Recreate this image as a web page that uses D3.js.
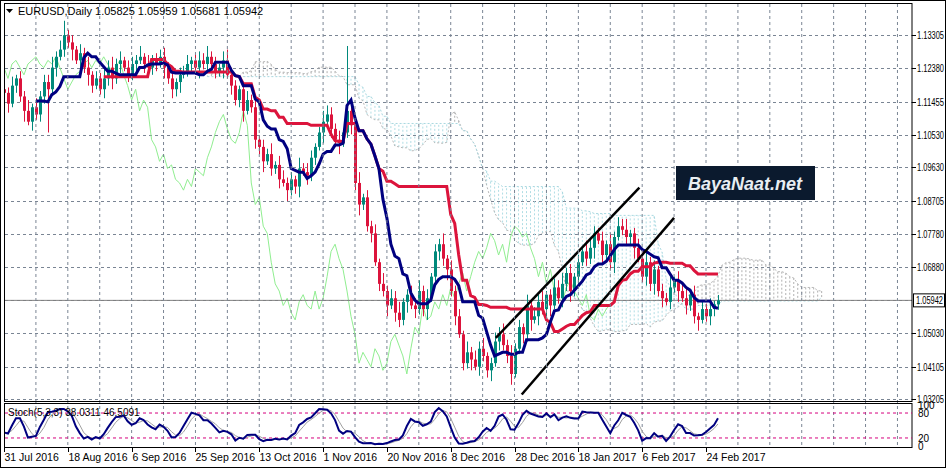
<!DOCTYPE html>
<html><head><meta charset="utf-8">
<script src="https://cdn.jsdelivr.net/npm/d3@7"></script>
<style>body{margin:0;background:#fff}svg text{font-family:"Liberation Sans",Arial,sans-serif}</style>
</head><body><div id="chart"></div>
<script>
// daily closes, 8 bars per grid cell
var closes = [
  1.117,1.114,1.119,1.121,1.116,1.112,1.109,1.113,
  1.111,1.116,1.120,1.118,1.124,1.127,1.129,1.133,
  1.131,1.129,1.126,1.128,1.124,1.122,1.119,1.121,
  1.118,1.121,1.124,1.121,1.125,1.126,1.124,1.122,
  1.125,1.126,1.127,1.125,1.124,1.126,1.125,1.127,
  1.124,1.121,1.118,1.120,1.122,1.123,1.125,1.126,
  1.124,1.126,1.125,1.127,1.125,1.123,1.124,1.126,
  1.122,1.119,1.115,1.118,1.112,1.115,1.113,1.104,
  1.102,1.098,1.100,1.096,1.097,1.093,1.092,1.090,
  1.093,1.091,1.096,1.095,1.094,1.099,1.102,1.106,
  1.109,1.111,1.107,1.104,1.103,1.106,1.112,1.108,
  1.092,1.086,1.088,1.080,1.078,1.070,1.064,1.062,
  1.058,1.060,1.056,1.054,1.059,1.061,1.058,1.057,
  1.062,1.057,1.060,1.066,1.073,1.075,1.071,1.068,
  1.062,1.055,1.050,1.042,1.045,1.043,1.041,1.046,
  1.044,1.040,1.042,1.048,1.050,1.047,1.044,1.039,
  1.046,1.052,1.050,1.058,1.054,1.055,1.059,1.057,
  1.061,1.058,1.063,1.060,1.064,1.067,1.062,1.066,
  1.070,1.073,1.071,1.074,1.078,1.076,1.072,1.075,
  1.070,1.077,1.080,1.079,1.077,1.078,1.074,1.071,
  1.066,1.070,1.064,1.068,1.062,1.060,1.059,1.063,
  1.065,1.062,1.060,1.058,1.061,1.055,1.054,1.057,
  1.055,1.057,1.0583,1.05942
];
var firstOpen = 1.118;
// wick lengths in units of 5 pips
var wickUp = "43524362534463543425362435463524436253445362435235463425643245362436255342635423654352453624352635462354635243625342635462354636342635462354635243654352635462354635243625463524362";
var wickDown = "35243625344635243625364235463524362534426354623546352436253462354624352634625342635462354633524362543625346235463524362534625346235462534623546352436253462354623546352436253462354";
var spikeBars = [{ i: 86, up: 1.1300 }, { i: 11, down: 1.1060 }, { i: 15, up: 1.1370 }];
var priceTicks = [1.13305,1.12380,1.11455,1.10530,1.09630,1.08705,1.07780,1.06880,1.05030,1.04105,1.03205];
var gridPrices = priceTicks.concat([1.05955]);
var dateLabels = ["31 Jul 2016","18 Aug 2016","6 Sep 2016","25 Sep 2016","13 Oct 2016","1 Nov 2016","20 Nov 2016","8 Dec 2016","28 Dec 2016","18 Jan 2017","6 Feb 2017","24 Feb 2017"];
var channel = [
  { i0: 123.3, p0: 1.0490, i1: 159.3, p1: 1.0907 },
  { i0: 129.8, p0: 1.0333, i1: 168.0, p1: 1.0823 }
];
var header = "EURUSD,Daily  1.05825 1.05959 1.05681 1.05942";
var stochText = "Stoch(5,3,3) 38.0311 46.5091";

var n = closes.length;
var bars = closes.map(function (c, i) {
  var o = i === 0 ? firstOpen : closes[i - 1];
  var h = Math.max(o, c) + (+wickUp[i] || 3) * 0.0005;
  var l = Math.min(o, c) - (+wickDown[i] || 3) * 0.0005;
  return { i: i, o: o, c: c, h: h, l: l };
});
spikeBars.forEach(function (s) {
  if (s.up) bars[s.i].h = s.up;
  if (s.down) bars[s.i].l = s.down;
});

function mid(i, p) {
  var s = bars.slice(Math.max(0, i - p + 1), i + 1);
  return (d3.max(s, d => d.h) + d3.min(s, d => d.l)) / 2;
}
var tenkan = bars.map(d => ({ i: d.i, v: mid(d.i, 9) })).slice(8);
var kijun = bars.map(d => ({ i: d.i, v: mid(d.i, 26) })).slice(25);
var chikou = bars.map(d => ({ i: d.i - 26, v: d.c }));
var cloud = [];
for (var i = 25; i < n; i++) {
  cloud.push({ i: i + 26, a: (mid(i, 9) + mid(i, 26)) / 2, b: mid(i, 52) });
}
// stochastic 5,3,3
var rawK = bars.map(function (d) {
  var s = bars.slice(Math.max(0, d.i - 4), d.i + 1);
  var hh = d3.max(s, e => e.h), ll = d3.min(s, e => e.l);
  return { c: d.c - ll, r: hh - ll };
});
var kLine = bars.map(function (d) {
  var s = rawK.slice(Math.max(0, d.i - 2), d.i + 1);
  return { i: d.i, v: 100 * d3.sum(s, e => e.c) / d3.sum(s, e => e.r) };
});
var dLine = kLine.map(function (d) {
  return { i: d.i, v: d3.mean(kLine.slice(Math.max(0, d.i - 2), d.i + 1), e => e.v) };
});

var W = 946, H = 468;
var svg = d3.select("#chart").append("svg").attr("width", W).attr("height", H);
svg.append("rect").attr("x", 0.5).attr("y", 0.5).attr("width", W - 1).attr("height", H - 1)
   .attr("fill", "#fff").attr("stroke", "#000");

var x = d3.scaleLinear().domain([0, 176]).range([4, 706]);
var y = d3.scaleLinear().domain([1.03205, 1.13305]).range([399, 35]);
var ys = d3.scaleLinear().domain([0, 100]).range([446.3, 404.7]);

var main = svg.append("g");
main.append("clipPath").attr("id", "mc").append("rect").attr("x", 5).attr("y", 4).attr("width", 907).attr("height", 397);
var plot = main.append("g").attr("clip-path", "url(#mc)");

// grid
var gridCol = "#7a8594";
for (var k = 8; x(k) < 912; k += 8) {
  svg.append("line").attr("x1", x(k)).attr("x2", x(k)).attr("y1", 4).attr("y2", 447)
     .attr("stroke", gridCol).attr("stroke-dasharray", "3,3");
}
gridPrices.forEach(function (p) {
  plot.append("line").attr("x1", 5).attr("x2", 912).attr("y1", Math.round(y(p)) + 0.5).attr("y2", Math.round(y(p)) + 0.5)
      .attr("stroke", gridCol).attr("stroke-dasharray", "3,3");
});

// cloud hatch
cloud.forEach(function (d) {
  plot.append("line").attr("x1", x(d.i)).attr("x2", x(d.i)).attr("y1", y(d.a)).attr("y2", y(d.b))
      .attr("stroke", d.a >= d.b ? "#b0b0b0" : "#b0dde4").attr("stroke-dasharray", "2,2");
});
var edge = d3.line().x(d => x(d.i)).y(d => y(d.v));
plot.append("path").datum(cloud.map(d => ({ i: d.i, v: d.a }))).attr("d", edge).attr("fill", "none")
    .attr("stroke", "#b8b8b8").attr("stroke-dasharray", "2,2");
plot.append("path").datum(cloud.map(d => ({ i: d.i, v: d.b }))).attr("d", edge).attr("fill", "none")
    .attr("stroke", "#a8d8e0").attr("stroke-dasharray", "2,2");

// chikou
plot.append("path").datum(chikou).attr("d", edge).attr("fill", "none").attr("stroke", "#90ee90").attr("stroke-width", 1);

// current price line
plot.append("line").attr("x1", 5).attr("x2", 912).attr("y1", y(1.05942)).attr("y2", y(1.05942)).attr("stroke", "#808080");

// candles
var up = "#00897b", dn = "#dc143c";
var cg = plot.selectAll("g.c").data(bars).enter().append("g");
cg.append("line").attr("x1", d => Math.round(x(d.i)) + 0.5).attr("x2", d => Math.round(x(d.i)) + 0.5)
  .attr("y1", d => y(d.h)).attr("y2", d => y(d.l)).attr("stroke", d => d.c >= d.o ? up : dn);
cg.append("rect").attr("x", d => Math.round(x(d.i)) - 1).attr("width", 3)
  .attr("y", d => y(Math.max(d.o, d.c))).attr("height", d => Math.max(1, Math.abs(y(d.o) - y(d.c))))
  .attr("fill", d => d.c >= d.o ? up : dn);

// kijun & tenkan
plot.append("path").datum(kijun).attr("d", edge).attr("fill", "none").attr("stroke", "#dc143c").attr("stroke-width", 3);
plot.append("path").datum(tenkan).attr("d", edge).attr("fill", "none").attr("stroke", "#000080").attr("stroke-width", 3);

// channel
channel.forEach(function (c) {
  plot.append("line").attr("x1", x(c.i0)).attr("y1", y(c.p0)).attr("x2", x(c.i1)).attr("y2", y(c.p1))
      .attr("stroke", "#000").attr("stroke-width", 2.5);
});

// watermark
svg.append("rect").attr("x", 676).attr("y", 166).attr("width", 139).attr("height", 34).attr("fill", "#0b1a2e");
svg.append("text").attr("x", 745).attr("y", 190).attr("text-anchor", "middle").attr("fill", "#e8eef2")
   .attr("font-size", 18).attr("font-weight", "bold").attr("font-style", "italic").text("BayaNaat.net");

// header
svg.append("path").attr("d", "M6,9 L13,9 L9.5,13 Z").attr("fill", "#000");
svg.append("text").attr("x", 18).attr("y", 15).attr("font-size", 11).text(header);

// frames
svg.append("rect").attr("x", 4.5).attr("y", 3.5).attr("width", 907.5).attr("height", 398).attr("fill", "none").attr("stroke", "#000");
svg.append("rect").attr("x", 4.5).attr("y", 403.5).attr("width", 907.5).attr("height", 44).attr("fill", "none").attr("stroke", "#000");

// price axis
function axisText(xx, yy, t) {
  return svg.append("text").attr("x", xx).attr("y", yy).attr("font-size", 10)
            .attr("textLength", 27).attr("lengthAdjust", "spacingAndGlyphs").text(t);
}
priceTicks.forEach(function (p) {
  svg.append("line").attr("x1", 912).attr("x2", 916).attr("y1", Math.round(y(p)) + 0.5).attr("y2", Math.round(y(p)) + 0.5).attr("stroke", "#000");
  axisText(917, y(p) + 4, p.toFixed(5));
});
svg.append("rect").attr("x", 913.5).attr("y", y(1.05942) - 6.5).attr("width", 31).attr("height", 13).attr("fill", "#fff").attr("stroke", "#000");
axisText(916, y(1.05942) + 4, "1.05942");

// stoch panel
var sc = svg.append("g");
sc.append("clipPath").attr("id", "sc").append("rect").attr("x", 5).attr("y", 404).attr("width", 907).attr("height", 43);
var sp = sc.append("g").attr("clip-path", "url(#sc)");
[20, 80].forEach(function (v) {
  sp.append("line").attr("x1", 5).attr("x2", 912).attr("y1", ys(v)).attr("y2", ys(v)).attr("stroke", "#d6007e").attr("stroke-dasharray", "3,3");
});
var sl = d3.line().x(d => x(d.i)).y(d => ys(d.v));
sp.append("path").datum(dLine).attr("d", sl).attr("fill", "none").attr("stroke", "#a0a0a0").attr("stroke-width", 1);
sp.append("path").datum(kLine).attr("d", sl).attr("fill", "none").attr("stroke", "#000080").attr("stroke-width", 2);
sp.append("text").attr("x", 8).attr("y", 416).attr("font-size", 10).text(stochText);
[[100, "100"], [80, "80"], [20, "20"], [0, "0"]].forEach(function (t) {
  svg.append("text").attr("x", 918).attr("y", ys(t[0]) + 4).attr("font-size", 10).text(t[1]);
});

// date axis
dateLabels.forEach(function (t, k) {
  var xx = Math.round(x(k * 16)) + 0.5;
  svg.append("line").attr("x1", xx).attr("x2", xx).attr("y1", 447).attr("y2", 452).attr("stroke", "#000");
  svg.append("text").attr("x", xx).attr("y", 461).attr("font-size", 10.5).text(t);
});
</script></body></html>
